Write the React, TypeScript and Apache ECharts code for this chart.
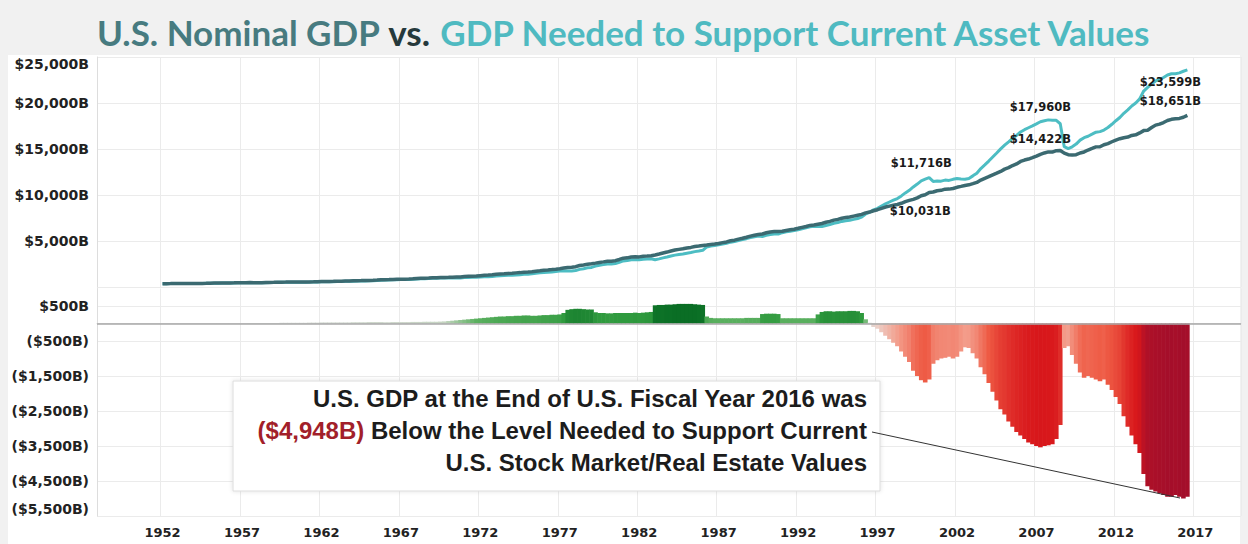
import React, { useEffect, useRef } from 'react';
import * as echarts from 'echarts';

// ---------- DATA ----------
const FIRST_YEAR = 1952; // first quarter of data: 1952Q1
const AXIS_START_YEAR = 1948;
const AXIS_END_YEAR = 2019;

// U.S. nominal GDP, quarterly ($B), 1952Q1 .. 2016Q3
const gdp: number[] = [
  360, 363, 368, 381, // 1952
  389, 392, 391, 386,
  386, 386, 391, 400,
  413, 422, 431, 437,
  440, 447, 452, 461,
  470, 472, 480, 475, // 1957
  468, 472, 486, 500,
  512, 526, 526, 532,
  543, 542, 546, 541,
  546, 557, 568, 581,
  595, 602, 610, 614, // 1962
  623, 630, 645, 654,
  671, 681, 693, 700,
  719, 732, 751, 775,
  798, 808, 820, 835,
  846, 851, 866, 884, // 1967
  912, 938, 955, 970,
  995, 1012, 1033, 1040,
  1054, 1071, 1089, 1091,
  1138, 1160, 1181, 1194,
  1231, 1267, 1295, 1331, // 1972
  1381, 1418, 1437, 1480,
  1500, 1535, 1563, 1603,
  1620, 1657, 1714, 1766,
  1825, 1856, 1891, 1938,
  1992, 2061, 2124, 2153, // 1977
  2207, 2337, 2398, 2483,
  2531, 2595, 2671, 2732,
  2797, 2800, 2860, 2994,
  3132, 3168, 3265, 3281,
  3274, 3332, 3367, 3407, // 1982
  3481, 3584, 3693, 3796,
  3912, 4016, 4089, 4148,
  4237, 4303, 4394, 4454,
  4517, 4555, 4619, 4669,
  4736, 4822, 4901, 5023, // 1987
  5090, 5207, 5300, 5413,
  5527, 5628, 5711, 5764,
  5891, 5975, 6029, 6024,
  6054, 6143, 6218, 6279,
  6380, 6484, 6578, 6693, // 1992
  6749, 6830, 6905, 7033,
  7137, 7270, 7352, 7477,
  7545, 7605, 7707, 7800,
  7893, 8057, 8145, 8287,
  8402, 8552, 8691, 8789, // 1997
  8880, 8966, 9102, 9277,
  9412, 9527, 9690, 9920,
  10031, 10279, 10329, 10466,
  10508, 10638, 10639, 10702,
  10835, 10935, 11037, 11103, // 2002
  11230, 11371, 11625, 11817,
  11989, 12181, 12368, 12562,
  12813, 12975, 13206, 13381,
  13649, 13799, 13909, 14066,
  14234, 14422, 14570, 14685, // 2007
  14669, 14817, 14844, 14550,
  14384, 14341, 14384, 14566,
  14681, 14889, 15058, 15231,
  15238, 15461, 15588, 15786,
  15974, 16121, 16228, 16297, // 2012
  16475, 16541, 16750, 16999,
  17044, 17328, 17596, 17704,
  17874, 18094, 18227, 18288,
  18325, 18451, 18651, // 2016
];

// GDP minus GDP needed to support asset values, quarterly ($B), 1952Q1 .. 2016Q3
const gap: number[] = [
  0, 0, 0, 0, // 1952
  0, 5, 5, 5,
  5, 5, 5, 5,
  10, 10, 10, 10,
  10, 10, 10, 10,
  10, 10, 15, 15, // 1957
  15, 15, 15, 15,
  15, 15, 20, 20,
  20, 20, 20, 20,
  20, 25, 25, 25,
  30, 30, 30, 30, // 1962
  30, 30, 30, 30,
  35, 35, 35, 35,
  40, 40, 40, 40,
  35, 35, 40, 40,
  40, 40, 40, 45, // 1967
  45, 45, 50, 50,
  50, 50, 55, 60,
  70, 80, 90, 100,
  110, 120, 130, 140,
  150, 160, 170, 180, // 1972
  190, 200, 200, 210,
  210, 220, 220, 230,
  230, 220, 220, 230,
  240, 240, 250, 250,
  260, 300, 390, 410, // 1977
  420, 420, 410, 400,
  400, 320, 300, 300,
  290, 290, 300, 300,
  300, 300, 300, 310,
  300, 310, 320, 330, // 1982
  520, 530, 530, 540,
  540, 550, 560, 560,
  560, 560, 550, 540,
  530, 200, 160, 150,
  150, 150, 150, 150, // 1987
  150, 150, 150, 160,
  160, 160, 160, 270,
  280, 280, 280, 270,
  150, 150, 150, 150,
  150, 150, 150, 150, // 1992
  150, 260, 330, 350,
  350, 340, 350, 350,
  350, 360, 360, 350,
  300, 120, 20, -100,
  -150, -250, -350, -450, // 1997
  -550, -650, -800, -950,
  -1100, -1350, -1500, -1620,
  -1685, -1600, -1150, -1050,
  -1000, -980, -950, -1000,
  -950, -800, -680, -700, // 2002
  -850, -1000, -1250, -1450,
  -1700, -1950, -2200, -2450,
  -2600, -2800, -2950, -3100,
  -3200, -3300, -3400, -3450,
  -3500, -3538, -3500, -3480, // 2007
  -3450, -3300, -2900, -700,
  -650, -900, -1150, -1400,
  -1550, -1500, -1550, -1600,
  -1650, -1600, -1750, -1900,
  -2100, -2300, -2650, -2950, // 2012
  -3200, -3450, -3700, -4300,
  -4650, -4750, -4800, -4850,
  -4900, -4950, -4950, -4900,
  -4950, -5000, -4948, // 2016
];

// quarters whose values are called out on the upper chart
const calloutQuarters = ['2000Q1', '2007Q2', '2016Q3'];
const finalQuarter = '2016Q3';

// tick labels
const upperMax = 25000;
const upperInterval = 5000;
const lowerMin = -5500;
const lowerMax = 1000;
const lowerStep = 500;
const labelEveryYears = 5;
const firstLabelYear = 1952;

// ---------- BUILD ----------
const categories: string[] = [];
for (let y = AXIS_START_YEAR; y <= AXIS_END_YEAR; y++) {
  for (let q = 1; q <= 4; q++) categories.push(`${y}Q${q}`);
}
const offset = (FIRST_YEAR - AXIS_START_YEAR) * 4;
const needed = gdp.map((g, i) => g - gap[i]);
const pad = (arr: number[]) =>
  categories.map((_, i) => {
    const j = i - offset;
    return j >= 0 && j < arr.length ? arr[j] : null;
  });
const valAt = (arr: number[], cat: string) => arr[categories.indexOf(cat) - offset];

const isYearMark = (cat: string) => {
  const y = parseInt(cat.slice(0, 4), 10);
  return cat.endsWith('Q1') && y >= firstLabelYear && (y - firstLabelYear) % labelEveryYears === 0;
};

const fmtB = (v: number) => '$' + Math.abs(Math.round(v)).toLocaleString('en-US') + 'B';

const colorStops: [number, string][] = [
  [-5000, '#a30e2b'],
  [-3500, '#d8171b'],
  [-1700, '#ee5a44'],
  [-700, '#f39a88'],
  [-150, '#ecd0c8'],
  [0, '#d8d8d8'],
  [60, '#c4d4c0'],
  [140, '#5cb060'],
  [300, '#2f9a3e'],
  [550, '#0a6e25'],
];
const hex = (c: string) => [1, 3, 5].map((k) => parseInt(c.slice(k, k + 2), 16));
const colorFor = (v: number) => {
  if (v <= colorStops[0][0]) return colorStops[0][1];
  for (let i = 1; i < colorStops.length; i++) {
    const [v1, c1] = colorStops[i];
    if (v <= v1) {
      const [v0, c0] = colorStops[i - 1];
      const t = (v - v0) / (v1 - v0);
      const a = hex(c0), b = hex(c1);
      const m = a.map((x, k) => Math.round(x + (b[k] - x) * t));
      return `rgb(${m[0]},${m[1]},${m[2]})`;
    }
  }
  return colorStops[colorStops.length - 1][1];
};

const labelFont = { fontFamily: 'DejaVu Sans', fontWeight: 'bold' as const, color: '#222' };
const calloutLabel = { ...labelFont, fontSize: 11.5, color: '#1a1a1a' };

const neededOffsets: Record<string, number[]> = {
  '2000Q1': [-4, -16],
  '2007Q2': [0, -15],
  '2016Q3': [-17, 12],
};
const gdpOffsets: Record<string, number[]> = {
  '2000Q1': [-5, 16],
  '2007Q2': [0, -15],
  '2016Q3': [-17, -14],
};

function buildOption(): any {
  const gridLine = '#ebebeb';
  const titleFont = { fontFamily: 'Lato', fontSize: 35, fontWeight: 'bold' as const };
  const boxFont = { fontFamily: 'Liberation Sans', fontWeight: 'bold' as const, fontSize: 24, lineHeight: 32, align: 'right' as const };
  return {
    animation: false,
    backgroundColor: 'transparent',
    title: {
      left: 'center',
      top: 9,
      text: '{a|U.S. Nominal GDP} {b|vs.} {c|GDP Needed to Support Current Asset Values}',
      textStyle: {
        ...titleFont,
        rich: {
          a: { ...titleFont, color: '#477b80' },
          b: { ...titleFont, color: '#26393c' },
          c: { ...titleFont, color: '#4fbac1' },
        },
      },
    },
    grid: [
      { left: 97, right: 7, top: 57, height: 230 },
      { left: 97, right: 7, top: 288.5, height: 227.5 },
    ],
    xAxis: [
      {
        type: 'category',
        gridIndex: 0,
        data: categories,
        axisLine: { show: false },
        axisTick: { show: false },
        axisLabel: { show: false },
        splitLine: { show: true, interval: (_i: number, v: string) => isYearMark(v), lineStyle: { color: gridLine } },
      },
      {
        type: 'category',
        gridIndex: 1,
        data: categories,
        axisLine: { show: true, lineStyle: { color: '#dddddd' } },
        axisTick: { show: false },
        axisLabel: {
          interval: (_i: number, v: string) => isYearMark(v),
          formatter: (v: string) => v.slice(0, 4),
          ...labelFont,
          fontSize: 13,
          margin: 10,
        },
        splitLine: { show: true, interval: (_i: number, v: string) => isYearMark(v), lineStyle: { color: gridLine } },
      },
    ],
    yAxis: [
      {
        type: 'value',
        gridIndex: 0,
        min: 0,
        max: upperMax,
        interval: upperInterval,
        axisLine: { show: true, lineStyle: { color: '#dddddd' } },
        axisTick: { show: false },
        axisLabel: {
          formatter: (v: number) => (v === 0 ? '' : fmtB(v)),
          ...labelFont,
          fontSize: 14,
          margin: 8,
          verticalAlignMaxLabel: 'top',
        },
        splitLine: { show: true, lineStyle: { color: gridLine } },
      },
      {
        type: 'value',
        gridIndex: 1,
        min: lowerMin,
        max: lowerMax,
        interval: lowerStep,
        axisLine: { show: true, lineStyle: { color: '#dddddd' } },
        axisTick: { show: false },
        axisLabel: {
          formatter: (v: number) => {
            const k = Math.round(v / lowerStep);
            if (k % 2 === 0) return '';
            return v > 0 ? fmtB(v) : '(' + fmtB(v) + ')';
          },
          ...labelFont,
          fontSize: 14,
          margin: 8,
          verticalAlignMinLabel: 'bottom',
        },
        splitLine: { show: true, lineStyle: { color: [gridLine, 'rgba(0,0,0,0)'] } },
      },
    ],
    series: [
      {
        name: 'GDP Needed to Support Current Asset Values',
        type: 'line',
        xAxisIndex: 0,
        yAxisIndex: 0,
        data: pad(needed),
        symbol: 'none',
        lineStyle: { color: '#4dbdc3', width: 3 },
        z: 3,
        markPoint: {
          symbol: 'circle',
          symbolSize: 0,
          label: { show: true, position: 'inside', formatter: (p: any) => fmtB(p.value), ...calloutLabel },
          data: calloutQuarters.map((q) => ({
            coord: [q, valAt(needed, q)],
            value: valAt(needed, q),
            label: { offset: neededOffsets[q] },
          })),
        },
      },
      {
        name: 'U.S. Nominal GDP',
        type: 'line',
        xAxisIndex: 0,
        yAxisIndex: 0,
        data: pad(gdp),
        symbol: 'none',
        lineStyle: { color: '#3b6a71', width: 3.5 },
        z: 4,
        markPoint: {
          symbol: 'circle',
          symbolSize: 0,
          label: { show: true, position: 'inside', formatter: (p: any) => fmtB(p.value), ...calloutLabel },
          data: calloutQuarters.map((q) => ({
            coord: [q, valAt(gdp, q)],
            value: valAt(gdp, q),
            label: { offset: gdpOffsets[q] },
          })),
        },
      },
      {
        name: 'Gap',
        type: 'bar',
        xAxisIndex: 1,
        yAxisIndex: 1,
        data: pad(gap),
        barWidth: 4.6,
        barCategoryGap: '0%',
        itemStyle: { color: (p: any) => colorFor(p.value) },
        markLine: {
          silent: true,
          symbol: ['none', 'none'],
          label: { show: false },
          lineStyle: { color: '#a9a9a9', width: 1.5, type: 'solid' },
          data: [{ yAxis: 0 }],
        },
      },
    ],
    graphic: [
      {
        type: 'rect',
        shape: { x: 233, y: 381, width: 647, height: 110 },
        style: { fill: '#ffffff', stroke: '#dcdcdc', lineWidth: 1, shadowBlur: 4, shadowColor: 'rgba(0,0,0,0.12)' },
        z: 100,
      },
      {
        type: 'text',
        x: 867,
        y: 430,
        z: 101,
        style: {
          text:
            '{t|U.S. GDP at the End of U.S. Fiscal Year 2016 was}\n{r|(' +
            fmtB(valAt(gap, finalQuarter)) +
            ')}{t| Below the Level Needed to Support Current}\n{t|U.S. Stock Market/Real Estate Values}',
          align: 'right',
          verticalAlign: 'middle',
          fill: '#1c1c1c',
          rich: {
            t: { ...boxFont, fill: '#1c1c1c' },
            r: { ...boxFont, fill: '#a21f2a' },
          },
        },
      },
      {
        type: 'line',
        z: 101,
        shape: { x1: 872, y1: 432, x2: 1180, y2: 498 },
        style: { stroke: '#333333', lineWidth: 1 },
      },
    ],
  };
}

export default function App() {
  const ref = useRef<HTMLDivElement>(null);
  useEffect(() => {
    if (!ref.current) return;
    const chart = echarts.init(ref.current, undefined, { renderer: 'svg' });
    chart.setOption(buildOption());
    return () => chart.dispose();
  }, []);
  return (
    <div style={{ position: 'fixed', left: 0, top: 0, width: 1248, height: 544, background: '#f1f1f1', overflow: 'hidden' }}>
      <div style={{ position: 'absolute', left: 8, top: 55, width: 1232, height: 489, background: '#ffffff' }} />
      <div ref={ref} style={{ position: 'absolute', left: 0, top: 0, width: 1248, height: 544 }} />
    </div>
  );
}
